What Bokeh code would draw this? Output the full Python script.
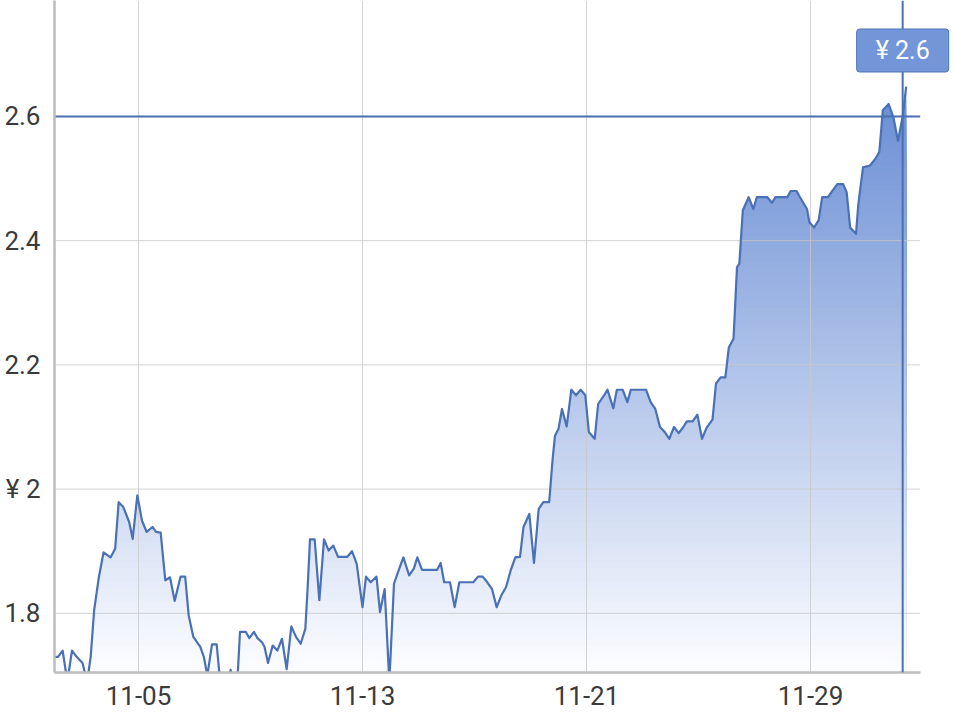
import numpy as np
from bokeh.plotting import figure
from bokeh.models import FixedTicker, DatetimeTickFormatter, Span, Label, Range1d
from bokeh.embed import file_html
from bokeh.resources import INLINE

# ---- data (hours since 2023-11-02 00:00, price) ----
start_date = "2023-11-02T00:00"
hours = [0, 3, 7, 11, 15, 19, 24, 28, 31, 34, 38, 42, 48, 52, 55, 59, 64, 67, 71, 75,
         79, 84, 87, 91, 95, 99, 103, 108, 112, 115, 119, 125, 128, 131, 135, 139, 142, 147, 151, 153,
         157, 159, 164, 167, 171, 174, 178, 180, 183, 187, 191, 195, 199, 203, 207, 211, 215, 217, 219, 223,
         227, 231, 235, 239, 243, 251, 255, 259, 264, 267, 271, 276, 279, 283, 287, 291, 295, 299, 304, 308,
         311, 315, 328, 331, 334, 339, 343, 347, 359, 363, 367, 371, 375, 379, 383, 387, 391, 395, 399, 402,
         407, 411, 415, 419, 424, 427, 429, 432, 435, 439, 443, 447, 451, 455, 458, 463, 466, 471, 474, 479,
         482, 487, 491, 494, 507, 511, 515, 519, 523, 527, 531, 535, 539, 542, 547, 551, 555, 559, 564, 567,
         571, 575, 578, 582, 585, 587, 590, 595, 599, 602, 611, 615, 618, 628, 631, 636, 639, 645, 647, 651,
         655, 658, 663, 667, 671, 676, 679, 682, 687, 689, 693, 699, 704, 707, 710, 715, 719, 723, 727, 730]
prices = [1.73, 1.73, 1.74, 1.69, 1.74, 1.73, 1.72, 1.69, 1.73, 1.805, 1.858, 1.898, 1.89, 1.904, 1.979, 1.971, 1.947, 1.92, 1.99, 1.949,
          1.931, 1.939, 1.931, 1.93, 1.853, 1.858, 1.82, 1.859, 1.859, 1.797, 1.762, 1.746, 1.73, 1.70, 1.75, 1.75, 1.69, 1.68, 1.709, 1.68,
          1.70, 1.77, 1.77, 1.76, 1.77, 1.76, 1.753, 1.746, 1.72, 1.748, 1.74, 1.759, 1.71, 1.779, 1.762, 1.751, 1.775, 1.842, 1.919, 1.919,
          1.821, 1.919, 1.901, 1.909, 1.891, 1.891, 1.90, 1.88, 1.81, 1.859, 1.85, 1.859, 1.802, 1.839, 1.69, 1.848, 1.869, 1.89, 1.861, 1.872,
          1.89, 1.87, 1.87, 1.881, 1.85, 1.85, 1.81, 1.85, 1.85, 1.859, 1.859, 1.85, 1.839, 1.81, 1.829, 1.842, 1.869, 1.89, 1.891, 1.939,
          1.96, 1.881, 1.968, 1.979, 1.979, 2.049, 2.086, 2.097, 2.129, 2.101, 2.16, 2.151, 2.16, 2.151, 2.092, 2.081, 2.137, 2.151, 2.16, 2.13,
          2.16, 2.16, 2.14, 2.16, 2.16, 2.14, 2.129, 2.10, 2.092, 2.081, 2.10, 2.09, 2.10, 2.109, 2.109, 2.12, 2.081, 2.099, 2.112, 2.17,
          2.18, 2.18, 2.228, 2.242, 2.357, 2.363, 2.449, 2.47, 2.451, 2.47, 2.47, 2.461, 2.47, 2.47, 2.48, 2.48, 2.47, 2.451, 2.43, 2.421,
          2.433, 2.47, 2.47, 2.481, 2.491, 2.491, 2.478, 2.421, 2.411, 2.459, 2.518, 2.521, 2.533, 2.543, 2.61, 2.62, 2.599, 2.561, 2.60, 2.648]

x_tick_dates = ["2023-11-05", "2023-11-13", "2023-11-21", "2023-11-29"]
y_ticks = [1.8, 2.0, 2.2, 2.4, 2.6]
y_tick_labels = ["1.8", "¥ 2", "2.2", "2.4", "2.6"]
pointer_index = len(prices) - 2
pointer_text = "¥ 2.6"

# ---- helpers ----
epoch = np.datetime64("1970-01-01T00:00")
def to_ms(dt64):
    return (dt64 - epoch) / np.timedelta64(1, "ms")

base = np.datetime64(start_date)
times = base + np.array(hours, dtype="timedelta64[h]")
times_ms = to_ms(times)
vals = np.array(prices, dtype=float)

x_start = to_ms(base)
x_end = to_ms(base + np.timedelta64(768, "h"))        # frame edge (canvas right)
x_axis_end = to_ms(base + np.timedelta64(742, "h"))   # end of the drawn axis / grid
y_min, y_max = 1.7047, 2.7867

p = figure(width=950, height=717, x_axis_type="datetime",
           x_range=Range1d(x_start, x_end), y_range=Range1d(y_min, y_max),
           output_backend="svg", toolbar_location=None,
           min_border_left=54, min_border_right=0, min_border_top=0, min_border_bottom=45)
p.outline_line_color = None
p.background_fill_color = "white"
p.xgrid.visible = False
p.ygrid.visible = False

# ---- gradient area (stacked bands clipped under the line) ----
top_rgb = np.array([104, 140, 212])
bot_rgb = np.array([252, 253, 255])
vmax = vals.max()
N = 90
levels = np.linspace(y_min, vmax, N + 1)
floor = 1.5
for k in reversed(range(N)):
    upper = np.minimum(vals, levels[k + 1]) if k < N - 1 else vals
    mid = 0.5 * (levels[k] + levels[k + 1])
    t = (vmax - mid) / (vmax - y_min)
    c = top_rgb + (bot_rgb - top_rgb) * t
    col = "#%02x%02x%02x" % tuple(int(round(v)) for v in c)
    p.varea(x=times_ms, y1=np.full(len(vals), floor), y2=np.maximum(upper, floor),
            fill_color=col, fill_alpha=1.0)

# ---- grid lines (over the fill) ----
x_tick_ms = [to_ms(np.datetime64(d + "T00:00")) for d in x_tick_dates]
grid_col = "#C8C8C8"
p.segment(x0=x_tick_ms, x1=x_tick_ms, y0=[y_min] * len(x_tick_ms), y1=[y_max] * len(x_tick_ms),
          line_color=grid_col, line_width=1, line_alpha=0.8)
p.segment(x0=[x_start] * len(y_ticks), x1=[x_axis_end] * len(y_ticks), y0=y_ticks, y1=y_ticks,
          line_color=grid_col, line_width=1, line_alpha=0.8)

p.line(times_ms, vals, line_color="#4A70B6", line_width=2.2, line_join="round")

# ---- crosshair ----
line_col = "#4A6FB2"
p.add_layout(Span(location=times_ms[pointer_index], dimension="height",
                  line_color=line_col, line_width=2))
p.segment(x0=[x_start], x1=[x_axis_end], y0=[vals[pointer_index]], y1=[vals[pointer_index]],
          line_color=line_col, line_width=2)
p.add_layout(Label(x=times_ms[pointer_index], y=2.7062, text=pointer_text,
                   text_align="center", text_baseline="middle",
                   text_font="Roboto", text_font_size="25px", text_color="white",
                   background_fill_color="#7296D8", background_fill_alpha=1.0,
                   border_line_color="#4F74BA", border_line_width=1,
                   border_radius=3, padding=(19, 7)))

# ---- axes ----
p.xaxis.ticker = FixedTicker(ticks=x_tick_ms)
fmt = "%m-%d"
p.xaxis.formatter = DatetimeTickFormatter(microseconds=fmt, milliseconds=fmt, seconds=fmt,
                                          minsec=fmt, minutes=fmt, hourmin=fmt, hours=fmt,
                                          days=fmt, months=fmt, years=fmt)
p.xaxis.bounds = (x_start, x_axis_end)
p.yaxis.ticker = FixedTicker(ticks=y_ticks)
p.yaxis.major_label_overrides = {v: s for v, s in zip(y_ticks, y_tick_labels)}

for ax in (p.xaxis[0], p.yaxis[0]):
    ax.axis_line_color = "#BDBDBD"
    ax.axis_line_width = 2.5
    ax.major_tick_line_color = None
    ax.minor_tick_line_color = None
    ax.major_tick_out = 0
    ax.major_label_text_font = "Roboto"
    ax.major_label_text_font_size = "26px"
    ax.major_label_text_color = "#3A3A3A"
p.yaxis.major_label_standoff = 14
p.xaxis.major_label_standoff = 13

open("out.html", "w").write(file_html(p, INLINE))
